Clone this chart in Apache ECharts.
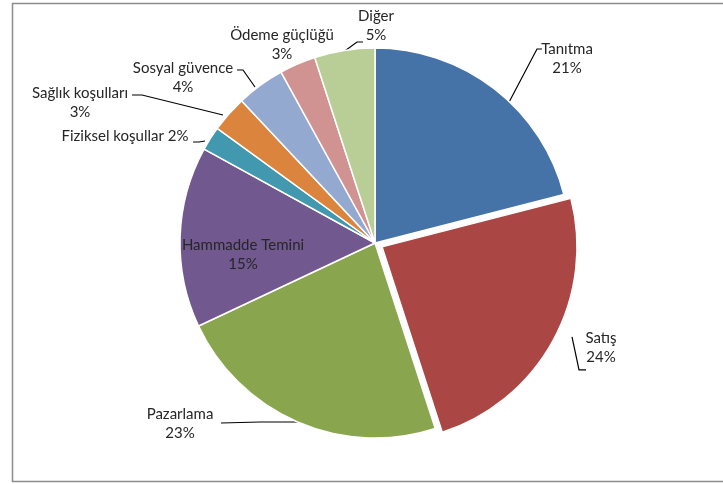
<!DOCTYPE html>
<html>
<head>
<meta charset="utf-8">
<script src="https://cdn.jsdelivr.net/npm/echarts@6/dist/echarts.min.js"></script>
<style>
  html, body { margin: 0; padding: 0; background: #fff; }
  #chart { width: 723px; height: 484px; }
</style>
</head>
<body>
<div id="chart"></div>
<script>
// slice names and shares (%)
const categories = ['Tanıtma', 'Satış', 'Pazarlama', 'Hammadde Temini', 'Fiziksel koşullar',
  'Sağlık koşulları', 'Sosyal güvence', 'Ödeme güçlüğü', 'Diğer'];
const shares = [21, 24, 23, 15, 2, 3, 4, 3, 5];
const sliceColors = ['#4572A7', '#AA4643', '#89A54E', '#71588F', '#4198AF',
  '#DB843D', '#93A9CF', '#D19392', '#B9CD96'];

// where each label sits and how its leader line runs (Excel-like placement)
const labelSpots = [
  { x: 567, y: 59, line: [[497, 125], [537, 49], [542, 49]] },
  { x: 596, y: 376, line: [[565, 333], [572, 366], [579, 366]] },
  { x: 180, y: 424, line: [[300, 422], [260, 422], [221, 423]] },
  { x: 243, y: 255, line: null },
  { x: 125, y: 136, line: [[205, 141], [199, 142], [193, 142]] },
  { x: 80, y: 103, line: [[223, 115], [142, 95], [132, 95]] },
  { x: 183, y: 78, line: [[255, 87], [243, 70], [237, 70]] },
  { x: 282, y: 45, line: null },
  { x: 376, y: 26, line: [[342, 53], [357, 42], [363, 42]] }
];

const chart = echarts.init(document.getElementById('chart'));

const pieData = categories.map((name, i) => {
  const item = { name: name, value: shares[i], itemStyle: { color: sliceColors[i] } };
  if (i === 1) item.selected = true;
  if (i === 3) {
    item.label = { position: 'inside' };
    item.labelLine = { show: false };
  }
  if (i === 4) item.label = { formatter: '{b} {c}%' };
  if (i === 7) item.labelLine = { show: false };
  return item;
});

chart.setOption({
  animation: false,
  backgroundColor: '#fff',
  graphic: [{
    type: 'rect',
    shape: { x: 12.5, y: 3.5, width: 740, height: 478 },
    style: { fill: 'none', stroke: '#8c8c8c', lineWidth: 1.5 },
    silent: true
  }],
  series: [{
    type: 'pie',
    center: [375, 243],
    radius: 195,
    startAngle: 90,
    clockwise: true,
    selectedMode: 'single',
    selectedOffset: 8,
    itemStyle: { borderColor: '#fff', borderWidth: 1.5 },
    label: {
      show: true,
      formatter: '{b}\n{c}%',
      fontFamily: 'Lato',
      fontSize: 15,
      lineHeight: 19,
      color: '#262626'
    },
    labelLine: {
      show: true,
      lineStyle: { color: '#000', width: 1.2 }
    },
    labelLayout: function (params) {
      const s = labelSpots[params.dataIndex];
      const out = { x: s.x, y: s.y, align: 'center', verticalAlign: 'middle' };
      if (s.line) out.labelLinePoints = s.line;
      return out;
    },
    emphasis: { disabled: true },
    data: pieData
  }]
});
</script>
</body>
</html>
